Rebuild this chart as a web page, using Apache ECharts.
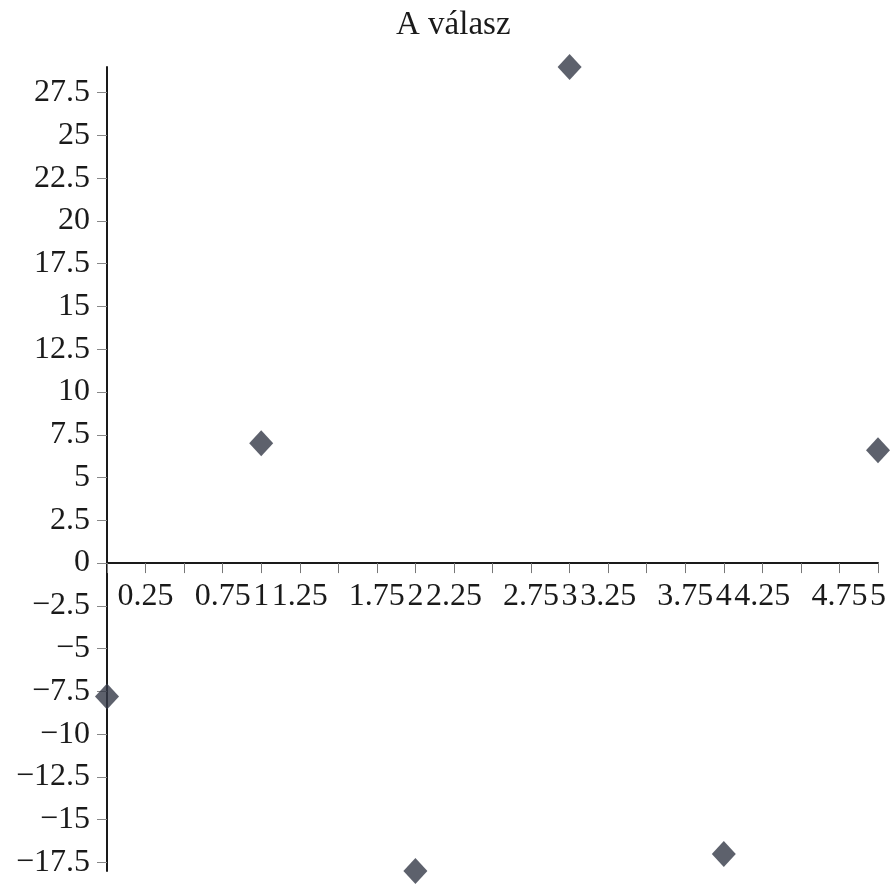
<!DOCTYPE html>
<html>
<head>
<meta charset="utf-8">
<script src="https://cdn.jsdelivr.net/npm/echarts@6/dist/echarts.min.js"></script>
<style>
  html, body { margin: 0; padding: 0; background: #fff; }
  #container { width: 893px; height: 885px; }
</style>
</head>
<body>
<div id="container"></div>
<script>
var titleText = 'A válasz';
var xValues = [0, 1, 2, 3, 4, 5];
var yValues = [-7.8, 7, -18, 29, -17, 6.6];
var xTickLabels = [0.25, 0.75, 1, 1.25, 1.75, 2, 2.25, 2.75, 3, 3.25, 3.75, 4, 4.25, 4.75, 5];
var yTickLabels = [-17.5, -15, -12.5, -10, -7.5, -5, -2.5, 0, 2.5, 5, 7.5, 10, 12.5, 15, 17.5, 20, 22.5, 25, 27.5];

var myChart = echarts.init(document.getElementById('container'));

var points = xValues.map(function (x, i) { return [x, yValues[i]]; });
var font = '"Liberation Serif", "DejaVu Serif", serif';

// grid geometry (pixels); x axis is drawn at y = 0 by shifting it up with offset
var gridTop = 67, gridBottom = 14;
var yMin = -18, yMax = 29;
var plotH = 885 - gridTop - gridBottom;
var zeroOffset = -plotH * (0 - yMin) / (yMax - yMin);

function fmt(v) {
    return v < 0 ? '\u2212' + Math.abs(v) : String(v);
}

var option = {
    backgroundColor: '#fff',
    animation: false,
    title: {
        text: titleText,
        left: 396,
        top: 9,
        padding: 0,
        textStyle: { fontFamily: font, fontSize: 33, fontWeight: 'normal', color: '#1a1a1a' }
    },
    grid: { left: 107, right: 15, top: gridTop, bottom: gridBottom, containLabel: false, outerBoundsMode: 'none' },
    xAxis: {
        type: 'value',
        min: 0,
        max: 5,
        interval: 0.25,
        position: 'bottom',
        offset: zeroOffset,
        splitLine: { show: false },
        axisLine: { onZero: false, lineStyle: { color: '#1a1a1a', width: 2 } },
        axisTick: { show: true, length: 10, lineStyle: { color: '#777', width: 1 } },
        axisLabel: {
            customValues: xTickLabels,
            margin: 18,
            fontFamily: font,
            fontSize: 32,
            color: '#1a1a1a',
            formatter: fmt
        }
    },
    yAxis: {
        type: 'value',
        min: yMin,
        max: yMax,
        splitLine: { show: false },
        axisLine: { onZero: false, lineStyle: { color: '#1a1a1a', width: 2 } },
        axisTick: { show: true, length: 10, customValues: yTickLabels, lineStyle: { color: '#888', width: 1 } },
        axisLabel: {
            customValues: yTickLabels,
            margin: 17,
            fontFamily: font,
            fontSize: 32,
            color: '#1a1a1a',
            formatter: fmt
        }
    },
    series: [{
        type: 'scatter',
        data: points,
        symbol: 'diamond',
        symbolSize: [24, 26],
        itemStyle: { color: '#353a47' }
    }]
};
myChart.setOption(option);
</script>
</body>
</html>
